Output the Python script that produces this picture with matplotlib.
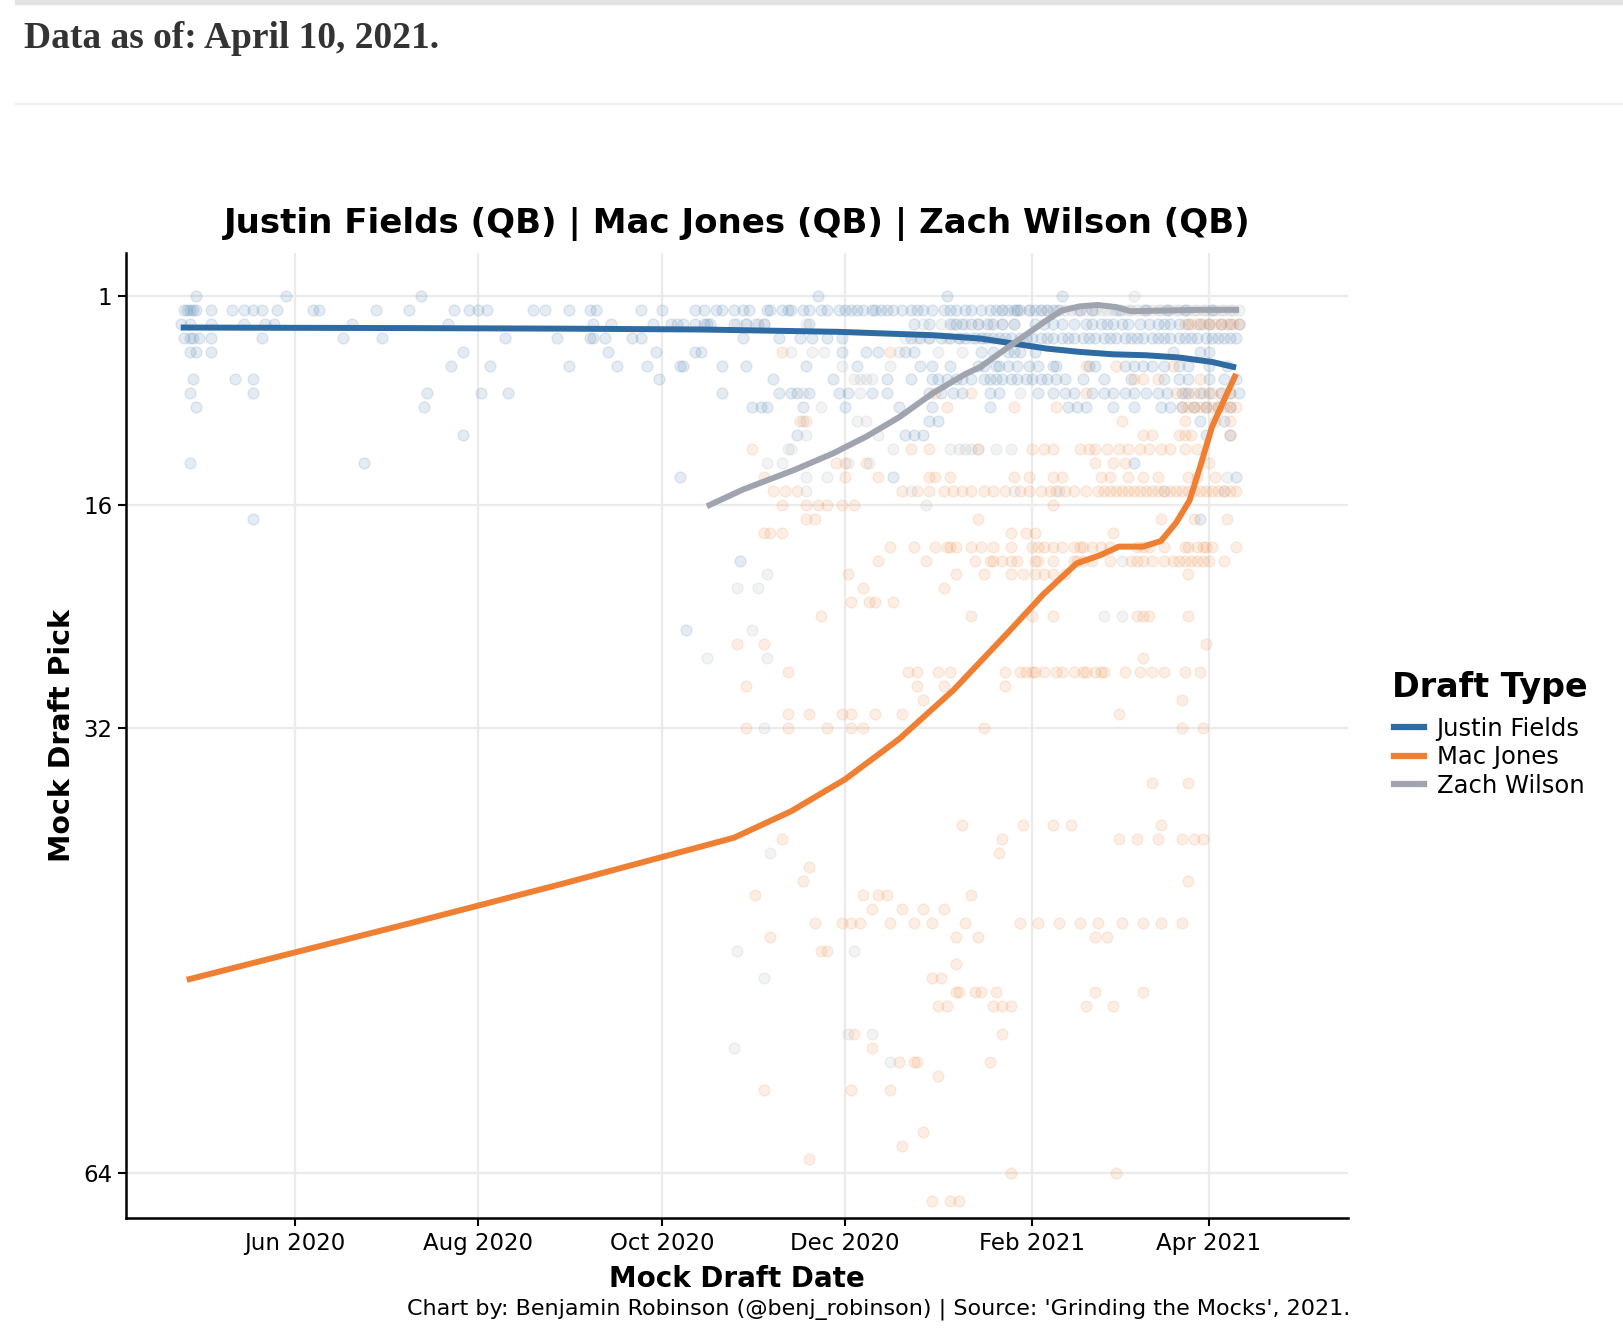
import numpy as np
import matplotlib
matplotlib.use("Agg")
import matplotlib.pyplot as plt
import matplotlib.dates as mdates
from matplotlib.lines import Line2D
from matplotlib.patches import Rectangle

# days are counted from 2020-04-01, picks are mock draft pick numbers
base_date = np.datetime64("2020-04-01")

fields_rows = {
    1: [28, 58, 103, 235, 278, 316],
    2: [24, 25, 26, 27, 28, 33, 40, 44, 47, 50, 55, 67, 69, 88, 99, 114, 119, 122, 125, 140, 144, 152,
        159, 161, 176, 183, 194, 197, 201, 203, 207, 210, 212, 218, 219, 223, 225, 226, 230, 232, 236,
        238, 242, 244, 246, 248, 250, 253, 254, 256, 258, 260, 263, 266, 268, 270, 273, 277, 279, 281,
        284, 286, 289, 292, 294, 296, 298, 300, 301, 302, 305, 307, 309, 311, 313, 315, 322, 326, 335,
        344, 351, 357, 366],
    3: [23, 26, 33, 44, 51, 54, 80, 112, 160, 166, 180, 186, 188, 190, 194, 197, 198, 199, 207, 211,
        215, 217, 232, 267, 272, 279, 281, 283, 286, 288, 291, 293, 296, 300, 307, 310, 313, 316, 320,
        324, 326, 329, 331, 333, 336, 338, 342, 345, 348, 350, 352, 355, 358, 362, 365, 369, 372, 375],
    4: [24, 26, 27, 29, 33, 50, 77, 90, 131, 148, 159, 160, 164, 173, 176, 210, 222, 229, 233, 238,
        243, 266, 269, 272, 276, 279, 282, 284, 287, 289, 291, 293, 295, 297, 299, 302, 304, 306, 309,
        311, 313, 316, 318, 320, 323, 325, 327, 330, 332, 334, 337, 339, 341, 343, 346, 348, 350, 352,
        355, 357, 359, 361, 364, 366, 368, 370, 372, 374],
    5: [26, 28, 33, 117, 165, 181, 194, 196, 243, 251, 255, 264, 267, 289, 293, 298, 300, 302, 307,
        353, 362, 365],
    6: [113, 126, 152, 168, 178, 189, 190, 203, 211, 231, 248, 269, 273, 279, 288, 290, 294, 295, 298,
        301, 305, 308, 313, 314, 325, 327, 337, 340, 343, 346, 350, 355, 358, 365, 371],
    7: [27, 41, 47, 182, 220, 240, 258, 266, 273, 275, 278, 281, 283, 286, 290, 292, 294, 296, 299,
        301, 304, 306, 309, 311, 314, 317, 323, 330, 339, 350, 355, 358, 365, 370, 374],
    8: [26, 47, 105, 123, 132, 203, 222, 226, 228, 232, 242, 245, 253, 258, 272, 276, 280, 283, 292,
        295, 308, 313, 317, 320, 326, 330, 333, 337, 340, 344, 348, 351, 356, 358, 362, 365, 369, 372,
        375],
    9: [28, 104, 213, 216, 218, 230, 244, 262, 273, 292, 318, 321, 324, 333, 340, 349, 352, 356, 360,
        364, 368, 372],
    10: [272, 275, 362, 370],
    11: [117, 228, 264, 267, 270, 364, 372],
    13: [26, 84, 340],
    14: [189, 260, 374],
    17: [47, 362],
    20: [209],
    25: [191],
}

jones_rows = {
    3: [357, 359, 361, 363, 365, 367, 369, 371, 373, 375],
    5: [223, 259],
    6: [324, 334, 353],
    7: [340, 343, 348, 362],
    8: [274, 286, 324, 354, 357, 360, 363, 366, 369, 372],
    9: [278, 300, 314, 356, 358, 360, 362, 364, 366, 368, 370, 372, 374],
    10: [229, 231, 336, 357, 367, 372],
    11: [343, 346, 355, 357, 359, 372],
    12: [213, 266, 272, 288, 306, 310, 313, 322, 325, 327, 331, 335, 338, 342, 345, 349, 352, 357, 361],
    13: [241, 244, 251, 327, 333, 337, 365],
    14: [217, 244, 255, 272, 274, 279, 300, 305, 313, 316, 329, 332, 338, 343, 348, 358, 361, 367],
    15: [220, 224, 228, 263, 268, 272, 277, 280, 283, 286, 290, 293, 297, 302, 305, 309, 312, 314,
         317, 320, 324, 328, 330, 332, 334, 336, 338, 340, 342, 344, 346, 348, 350, 352, 354, 356, 358,
         360, 362, 364, 366, 368, 370, 372, 374],
    16: [223, 231, 235, 238, 243, 247, 313],
    17: [231, 234, 288, 349, 360, 371],
    18: [217, 219, 223, 299, 304, 307, 333],
    19: [259, 267, 274, 278, 279, 281, 286, 289, 293, 299, 306, 308, 310, 313, 316, 320, 322, 323,
         326, 329, 332, 341, 343, 345, 350, 357, 358, 361, 363, 364, 366, 374],
    20: [255, 271, 287, 292, 293, 296, 299, 301, 307, 308, 313, 320, 321, 323, 326, 332, 339, 341,
         343, 346, 350, 353, 355, 357, 359, 361, 363, 365, 370],
    21: [245, 281, 290, 299, 303, 307, 310, 313, 317, 358],
    22: [250, 277],
    23: [246, 252, 254, 260],
    24: [236, 286, 306, 313, 341, 343, 345, 358],
    26: [208, 217, 364],
    27: [343],
    28: [225, 265, 268, 275, 279, 297, 302, 304, 306, 307, 310, 314, 316, 320, 323, 324, 327, 329,
         330, 337, 342, 346, 350, 357, 362],
    29: [211, 268, 277, 297],
    30: [270, 356],
    31: [225, 232, 243, 246, 254, 263, 335],
    32: [211, 225, 238, 246, 250, 290, 356, 363],
    36: [346, 358],
    39: [283, 303, 313, 319, 349],
    40: [223, 296, 335, 341, 348, 356, 360, 363],
    41: [295],
    42: [232],
    43: [230, 358],
    44: [214, 250, 255, 258, 286],
    45: [253, 263, 270, 277],
    46: [234, 243, 246, 249, 259, 267, 273, 284, 302, 308, 315, 322, 328, 336, 343, 349, 356],
    47: [219, 281, 288, 327, 331],
    48: [236, 238],
    49: [281],
    50: [273, 276],
    51: [281, 282, 287, 289, 294, 327, 343],
    52: [275, 278, 293, 296, 299, 324, 333],
    54: [247, 296],
    55: [253],
    56: [262, 267, 268, 292],
    57: [275],
    58: [217, 246, 259],
    61: [270],
    62: [263],
    63: [232],
    64: [299, 334],
    66: [273, 279, 282],
}

wilson_rows = {
    1: [340],
    2: [296, 301, 305, 309, 311, 314, 317, 319, 321, 322, 324, 326, 327, 329, 331, 333, 334, 336, 338,
        339, 341, 343, 344, 346, 348, 349, 351, 352, 354, 355, 357, 358, 360, 361, 363, 364, 366, 367,
        369, 370, 372, 373, 375],
    3: [208, 211, 214, 217, 231, 270, 276, 280, 284, 288, 292, 296, 300],
    4: [264, 268, 272, 278, 282, 286, 290],
    5: [226, 233, 237, 262, 275, 283],
    6: [243, 259],
    7: [247, 249, 251, 253],
    8: [230, 249, 302],
    9: [236],
    10: [230, 248, 251],
    11: [231, 255],
    12: [225, 226, 260, 279, 282, 284, 286, 288, 294, 299],
    13: [218, 223, 245, 252],
    14: [231, 238, 371],
    15: [231, 266, 300, 315, 350, 370],
    16: [271],
    20: [336],
    21: [218],
    22: [208, 215],
    24: [330, 336],
    25: [213],
    27: [198, 218],
    32: [217],
    41: [219],
    48: [208, 247],
    50: [217],
    54: [245, 253],
    55: [207],
    56: [259],
}

# smoothed trend lines
fields_line_days = [23, 60, 100, 150, 196, 242, 273, 289, 300, 311, 322, 333, 344, 355, 366, 374]
fields_line_pick = [3.27, 3.29, 3.31, 3.35, 3.41, 3.58, 3.82, 4.06, 4.42, 4.78, 5.02, 5.19, 5.26,
                    5.42, 5.74, 6.14]
jones_line_days = [25, 100, 150, 207, 226, 244, 262, 280, 298, 310, 321, 329, 335, 343, 349, 354,
                   358.5, 362, 366, 371, 374]
jones_line_pick = [50.1, 46.0, 43.2, 39.9, 38.0, 35.7, 32.8, 29.3, 25.2, 22.4, 20.2, 19.6, 19.0,
                   19.0, 18.6, 17.3, 15.7, 13.3, 10.4, 8.0, 6.6]
wilson_line_days = [198, 210, 227, 240, 251, 262, 273, 284, 289, 300, 311, 316, 322, 328, 334, 339,
                    350, 362, 375]
wilson_line_pick = [16.1, 14.9, 13.5, 12.3, 11.1, 9.7, 8.0, 6.6, 6.1, 4.4, 2.75, 2.05, 1.75, 1.65,
                    1.8, 2.1, 2.05, 2.0, 2.0]

players = ["Justin Fields", "Mac Jones", "Zach Wilson"]
colors = ["#2f6ba3", "#ee7f33", "#a0a4af"]
y_ticks = [1, 16, 32, 64]


def to_num(days):
    return mdates.date2num(base_date) + np.asarray(days, dtype=float)


def flatten(rows):
    xs, ys = [], []
    for pick, days in rows.items():
        xs.extend(days)
        ys.extend([pick] * len(days))
    return to_num(xs), np.array(ys)


fig = plt.figure(figsize=(16.24, 13.38), dpi=100)
ax = fig.add_axes([0.0778, 0.0897, 0.7522, 0.7213])

for rows, c in zip([fields_rows, jones_rows, wilson_rows], colors):
    x, y = flatten(rows)
    ax.scatter(x, y, s=62, color=c, alpha=0.13, edgecolors=c, linewidths=1.0, zorder=2)

lines = [(fields_line_days, fields_line_pick), (jones_line_days, jones_line_pick),
         (wilson_line_days, wilson_line_pick)]
for (d, p), c in zip(lines, colors):
    ax.plot(to_num(d), p, color=c, lw=4.3, solid_capstyle="butt", zorder=3)

ax.set_xlim(to_num(4.9), to_num(411.2))
ax.set_ylim(67.2, -2.09)
ax.set_yticks(y_ticks)
ax.xaxis.set_major_locator(mdates.MonthLocator(bymonth=[2, 4, 6, 8, 10, 12]))
ax.xaxis.set_major_formatter(mdates.DateFormatter("%b %Y"))

ax.grid(True, color="#ebebeb", lw=1.6)
ax.set_axisbelow(True)
for side in ["top", "right"]:
    ax.spines[side].set_visible(False)
for side in ["left", "bottom"]:
    ax.spines[side].set_linewidth(1.8)
ax.tick_params(length=6, width=1.5, labelsize=16.5, colors="black", pad=4)

ax.set_title("Justin Fields (QB) | Mac Jones (QB) | Zach Wilson (QB)", fontsize=24.5,
             fontweight="bold", pad=14)
ax.set_xlabel("Mock Draft Date", fontsize=20, fontweight="bold", labelpad=7)
ax.set_ylabel("Mock Draft Pick", fontsize=20.5, fontweight="bold", labelpad=5)

fig.text(1350.6 / 1624, 1 - 1309 / 1338,
         "Chart by: Benjamin Robinson (@benj_robinson) | Source: 'Grinding the Mocks', 2021.",
         ha="right", va="center", fontsize=16)

# legend: title as its own text, entries below it
fig.text(1392 / 1624, 1 - 687 / 1338, "Draft Type", fontsize=24, fontweight="bold", va="center")
handles = [Line2D([], [], color=c, lw=4.5) for c in colors]
leg = fig.legend(handles, players, loc="upper left", bbox_to_anchor=(1394 / 1624, 1 - 717 / 1338),
                 frameon=False, borderpad=0, borderaxespad=0, fontsize=17.5,
                 handlelength=1.25, handletextpad=0.5, labelspacing=0.18)

# page header above the chart
fig.text(24.5 / 1624, 1 - 39 / 1338, "Data as of: April 10, 2021.", family="Liberation Serif",
         weight="bold", size=27, va="center", color="#333333")
fig.add_artist(Rectangle((15 / 1624, 1 - 4 / 1338), 1, 4 / 1338, color="#e3e3e3",
                         transform=fig.transFigure))
fig.add_artist(Line2D([16 / 1624, 1], [1 - 104 / 1338] * 2, color="#eeeeee", lw=1.5,
                      transform=fig.transFigure))

fig.savefig("out.png", dpi=100)
